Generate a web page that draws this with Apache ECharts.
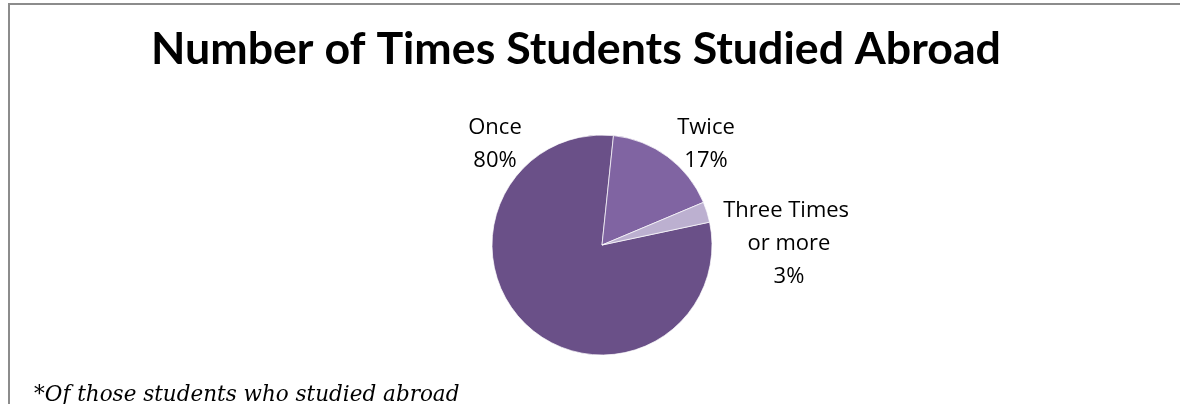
<!DOCTYPE html>
<html>
<head>
<meta charset="utf-8">
<title>Number of Times Students Studied Abroad</title>
<script src="https://cdn.jsdelivr.net/npm/echarts@6/dist/echarts.min.js"></script>
<style>
  html, body { margin: 0; padding: 0; background: #ffffff; }
  #chart { width: 1180px; height: 404px; }
</style>
</head>
<body>
<div id="chart"></div>
<script>
// Share of students by how many times they studied abroad
const categories = ['Once', 'Twice', 'Three Times or more'];
const shares = [80, 17, 3];
const sliceColors = ['#6a5088', '#8064a2', '#bcb0d0'];

const titleText = 'Number of Times Students Studied Abroad';
const footnoteMark = '*';
const footnoteText = 'Of those students who studied abroad';

const pieCenter = [602, 245];
const pieRadius = 110;

// label block centres, given as offsets from the pie centre
const labelOffsets = [[-107, -101], [104, -101], [187, -1]];

const chart = echarts.init(document.getElementById('chart'), null, { renderer: 'canvas' });

chart.setOption({
  backgroundColor: '#ffffff',
  animation: false,
  title: {
    text: titleText,
    left: 146,
    top: 22,
    textStyle: {
      fontFamily: 'Lato',
      fontWeight: 'bold',
      fontSize: 44.7,
      color: '#000000'
    }
  },
  graphic: [
    {
      type: 'rect',
      silent: true,
      shape: { x: 9, y: 4, width: 1400, height: 800 },
      style: { fill: 'none', stroke: '#8c8c8c', lineWidth: 2 }
    },
    {
      type: 'text',
      left: 34,
      top: 384,
      style: {
        text: '{m|' + footnoteMark + '}{t|' + footnoteText + '}',
        rich: {
          m: { fontFamily: 'DejaVu Serif', fontSize: 21.5, fill: '#000000' },
          t: { fontFamily: 'DejaVu Serif', fontStyle: 'italic', fontSize: 21.5, fill: '#000000' }
        }
      }
    }
  ],
  series: [
    {
      type: 'pie',
      center: pieCenter,
      radius: pieRadius,
      startAngle: 12,
      clockwise: true,
      avoidLabelOverlap: false,
      itemStyle: { borderColor: '#ffffff', borderWidth: 0.7 },
      label: {
        show: true,
        position: 'outside',
        fontFamily: 'Open Sans',
        fontSize: 22,
        lineHeight: 33,
        color: '#000000',
        align: 'center',
        formatter: '{b}\n{d}%'
      },
      labelLine: { show: false },
      labelLayout: function (params) {
        const off = labelOffsets[params.dataIndex];
        return {
          x: pieCenter[0] + off[0],
          y: pieCenter[1] + off[1],
          align: 'center',
          verticalAlign: 'middle'
        };
      },
      data: categories.map(function (name, i) {
        const item = { name: name, value: shares[i], itemStyle: { color: sliceColors[i] } };
        if (i === 2) {
          item.label = { width: 140, overflow: 'break' };
        }
        return item;
      })
    }
  ]
});
</script>
</body>
</html>
